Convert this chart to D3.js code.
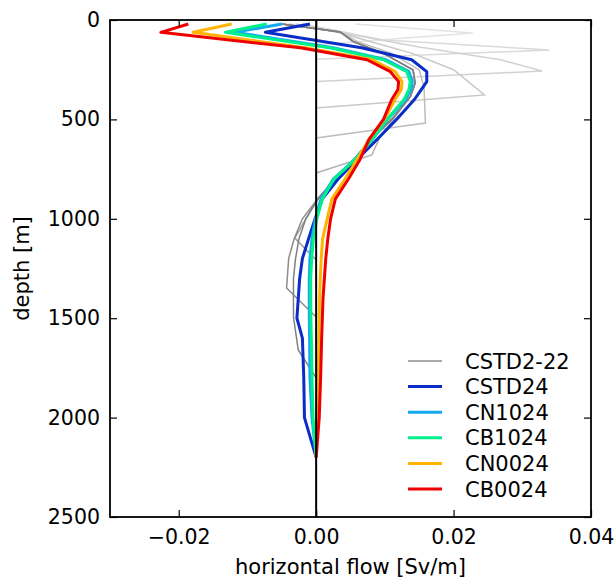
<!DOCTYPE html>
<html>
<head>
<meta charset="utf-8">
<script src="https://cdn.jsdelivr.net/npm/d3@7"></script>
<style>
  body { margin: 0; background: #fff; }
  text { font-family: "DejaVu Sans", sans-serif; }
</style>
</head>
<body>
<div id="chart"></div>
<script>
// depth levels for the 24 layer runs
var depths = [20, 62, 140, 200, 260, 310, 350, 400, 500, 600, 700, 800, 900, 1000, 1100, 1200, 1300, 1400, 1500, 1600, 1800, 2000, 2200];

var cstd24 = [-0.0009, -0.0074, 0.0066, 0.0139, 0.0161, 0.0161, 0.0153, 0.0143, 0.0117, 0.0089, 0.0060, 0.0032, 0.0009, -0.00015, -0.0011, -0.0020, -0.0024, -0.0026, -0.0028, -0.0020, -0.0018, -0.0017, 0];
var cn1024 = [-0.0050, -0.0118, 0.0025, 0.0102, 0.0135, 0.0140, 0.0138, 0.0130, 0.0104, 0.0082, 0.0057, 0.0025, 0.0007, -0.0001, -0.0006, -0.0009, -0.0010, -0.0010, -0.0010, -0.00095, -0.0009, -0.0006, 0];
var cb1024 = [-0.0072, -0.0132, 0.0020, 0.0098, 0.0132, 0.0137, 0.0135, 0.0128, 0.0103, 0.0082, 0.0057, 0.0026, 0.0009, 0.0001, -0.0004, -0.00065, -0.0008, -0.0008, -0.00077, -0.0007, -0.0006, -0.00045, 0];
var cn0024 = [-0.0123, -0.0179, -0.0016, 0.0082, 0.0115, 0.0125, 0.0124, 0.0115, 0.0099, 0.0077, 0.0060, 0.0042, 0.0023, 0.0016, 0.00095, 0.00073, 0.0006, 0.0005, 0.00044, 0.0004, 0.0003, 0.0002, 0];
var cb0024 = [-0.0186, -0.0226, -0.0023, 0.0074, 0.0108, 0.0120, 0.0119, 0.0110, 0.0098, 0.0077, 0.0064, 0.0047, 0.0028, 0.0021, 0.0017, 0.0014, 0.0012, 0.0010, 0.0009, 0.0008, 0.00065, 0.00045, 0];

// CSTD2 ... CSTD22 runs, each ending at its own bottom depth
var grayDepths = [
  [20, 65, 125],
  [20, 60, 100, 151, 198],
  [20, 60, 136, 200, 257, 309],
  [20, 60, 109, 168, 250, 377, 443],
  [20, 60, 109, 168, 251, 337, 518, 594],
  [20, 60, 109, 168, 251, 318, 386, 588, 679, 770],
  [20, 60, 109, 168, 251, 318, 386, 500, 600, 700, 800, 900, 1000, 1097, 1207],
  [20, 60, 109, 168, 251, 318, 386, 500, 600, 700, 800, 900, 1000, 1100, 1200, 1348, 1494],
  [20, 60, 109, 168, 251, 318, 386, 500, 600, 700, 800, 900, 1000, 1100, 1200, 1300, 1494, 1660, 1800]
];
var grayValues = [
  [0.0057, 0.0228, 0],
  [-0.002, 0.004, 0.0098, 0.0340, 0],
  [-0.003, 0.003, 0.0150, 0.0268, 0.0329, 0],
  [-0.004, 0.003, 0.0080, 0.0140, 0.0200, 0.0245, 0],
  [-0.005, 0.0035, 0.0060, 0.0110, 0.0150, 0.0157, 0.0159, 0],
  [-0.005, 0.0035, 0.0054, 0.0098, 0.0141, 0.0144, 0.0137, 0.0093, 0.0081, 0],
  [-0.005, 0.0035, 0.0054, 0.0098, 0.0141, 0.0144, 0.0137, 0.0110, 0.0080, 0.0055, 0.0028, 0.0002, -0.0015, -0.0031, 0],
  [-0.005, 0.0035, 0.0054, 0.0098, 0.0141, 0.0144, 0.0137, 0.0110, 0.0080, 0.0055, 0.0028, 0.0002, -0.0020, -0.0032, -0.0040, -0.0043, 0],
  [-0.005, 0.0035, 0.0054, 0.0098, 0.0141, 0.0144, 0.0137, 0.0110, 0.0080, 0.0055, 0.0028, 0.0003, -0.0015, -0.0025, -0.0030, -0.0033, -0.0033, -0.0026, 0]
];
var grayShades = ["#e4e4e4", "#dadada", "#d2d2d2", "#c8c8c8", "#bcbcbc", "#b0b0b0", "#9c9c9c", "#8c8c8c", "#808080"];

var seriesNames = ["CSTD24", "CN1024", "CB1024", "CN0024", "CB0024"];
var seriesValues = [cstd24, cn1024, cb1024, cn0024, cb0024];
var seriesColors = ["#0a2dc8", "#14aaf0", "#00f08c", "#ffb400", "#ee0000"];

var xTicks = [-0.02, 0, 0.02, 0.04];
var yTicks = [0, 500, 1000, 1500, 2000, 2500];

var svgWidth = 616, svgHeight = 579;
var margin = {top: 20, right: 25, bottom: 62, left: 110};
var width = svgWidth - margin.left - margin.right;
var height = svgHeight - margin.top - margin.bottom;

var svg = d3.select("#chart").append("svg")
  .attr("width", svgWidth)
  .attr("height", svgHeight);

var g = svg.append("g").attr("transform", `translate(${margin.left},${margin.top})`);

var x = d3.scaleLinear().domain([-0.03, 0.04]).range([0, width]);
var y = d3.scaleLinear().domain([0, 2500]).range([0, height]);

var line = d3.line().x(d => x(d[1])).y(d => y(d[0]));

// clip so nothing sticks out of the frame
g.append("clipPath").attr("id", "clip")
  .append("rect").attr("width", width).attr("height", height);
var plot = g.append("g").attr("clip-path", "url(#clip)");

// gray runs first
grayDepths.forEach(function(ds, i) {
  plot.append("path")
    .datum(ds.map((d, j) => [d, grayValues[i][j]]))
    .attr("fill", "none")
    .attr("stroke", grayShades[i])
    .attr("stroke-width", 1.5)
    .attr("d", line);
});

seriesValues.forEach(function(vals, i) {
  plot.append("path")
    .datum(depths.map((d, j) => [d, vals[j]]))
    .attr("fill", "none")
    .attr("stroke", seriesColors[i])
    .attr("stroke-width", 3)
    .attr("stroke-linejoin", "round")
    .attr("d", line);
});

// zero line
plot.append("line")
  .attr("x1", x(0)).attr("x2", x(0))
  .attr("y1", 0).attr("y2", height)
  .attr("stroke", "#000").attr("stroke-width", 2);

// axes, ticks pointing inward on all sides
var tickLen = 7;
var xAxis = g.append("g").attr("transform", `translate(0,${height})`)
  .call(d3.axisBottom(x).tickValues(xTicks).tickSizeInner(-tickLen).tickSizeOuter(0).tickPadding(12)
    .tickFormat(d => d3.format(".2f")(d).replace("-", "\u2212")));
var xTop = g.append("g")
  .call(d3.axisTop(x).tickValues(xTicks).tickSizeInner(-tickLen).tickSizeOuter(0).tickFormat(""));
var yAxis = g.append("g")
  .call(d3.axisLeft(y).tickValues(yTicks).tickSizeInner(-tickLen).tickSizeOuter(0).tickPadding(10)
    .tickFormat(d3.format("d")));
var yRight = g.append("g").attr("transform", `translate(${width},0)`)
  .call(d3.axisRight(y).tickValues(yTicks).tickSizeInner(-tickLen).tickSizeOuter(0).tickFormat(""));

[xAxis, xTop, yAxis, yRight].forEach(function(a) {
  a.select(".domain").remove();
  a.selectAll("line").attr("stroke", "#000").attr("stroke-width", 1.2);
  a.selectAll("text").attr("font-size", 20.5).attr("fill", "#000").attr("font-family", "DejaVu Sans");
});

// frame
g.append("rect")
  .attr("width", width).attr("height", height)
  .attr("fill", "none").attr("stroke", "#000").attr("stroke-width", 1.8);

// axis labels
svg.append("text")
  .attr("x", margin.left + width / 2).attr("y", 574)
  .attr("text-anchor", "middle").attr("font-size", 21)
  .text("horizontal flow [Sv/m]");
svg.append("text")
  .attr("transform", `translate(29,${margin.top + height / 2}) rotate(-90)`)
  .attr("text-anchor", "middle").attr("font-size", 21)
  .text("depth [m]");

// legend
var legendNames = ["CSTD2-22"].concat(seriesNames);
var legendColors = ["#aaaaaa"].concat(seriesColors);
var legend = svg.append("g").attr("transform", "translate(408,361)");
legendNames.forEach(function(name, i) {
  var row = legend.append("g").attr("transform", `translate(0,${i * 25.6})`);
  row.append("line").attr("x1", 0).attr("x2", 34)
    .attr("stroke", legendColors[i]).attr("stroke-width", i == 0 ? 2 : 3);
  row.append("text").attr("x", 57).attr("y", 7.5)
    .attr("font-size", 21).text(name);
});
</script>
</body>
</html>
